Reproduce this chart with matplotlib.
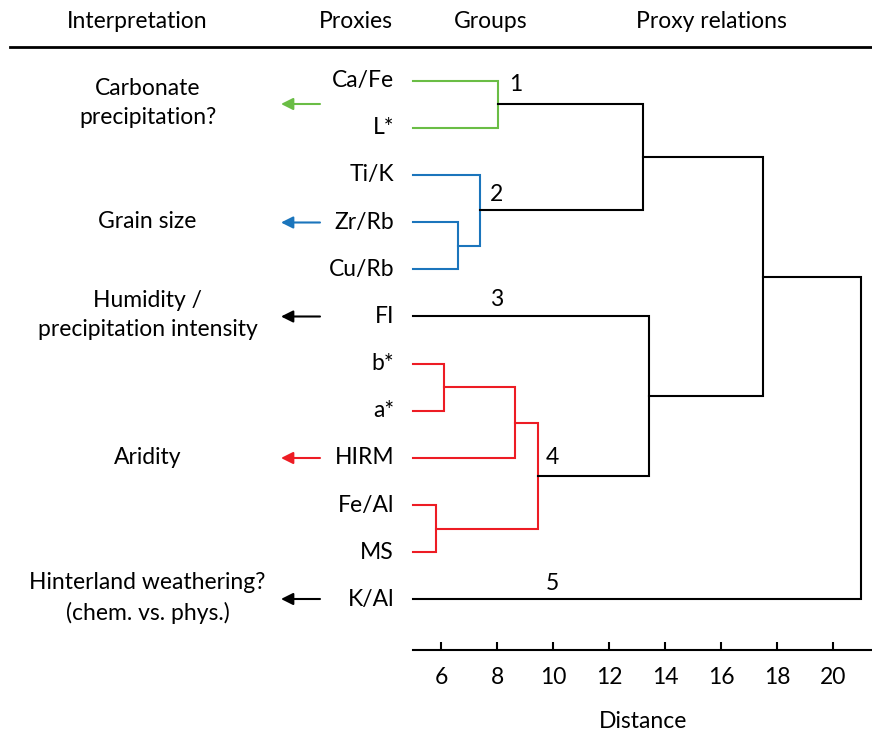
import numpy as np
import matplotlib
matplotlib.use("Agg")
import matplotlib.pyplot as plt

plt.rcParams['font.family'] = ['Lato', 'DejaVu Sans']
FS = 16.5

# Proxies (leaf order top to bottom)
proxies = ["Ca/Fe", "L*", "Ti/K", "Zr/Rb", "Cu/Rb", "FI", "b*", "a*",
           "HIRM", "Fe/Al", "MS", "K/Al"]

# Linkage: (node a, node b, distance, group colour)
green = "#6abd45"
blue = "#1b75bc"
red = "#ed1c24"
black = "#000000"
merge_a = [0, 3, 2, 12, 6, 16, 9, 17, 5, 15, 21]
merge_b = [1, 4, 13, 14, 7, 8, 10, 18, 19, 20, 11]
merge_dist = [8.04, 6.61, 7.39, 13.21, 6.09, 8.64, 5.81, 9.45, 13.42, 17.5, 21.02]
merge_col = [green, blue, blue, black, red, red, red, red, black, black, black]

# group numbers
group_ids = ["1", "2", "3", "4", "5"]
group_xy = [(8.65, 0.09), (7.98, 2.42), (7.98, 4.65), (9.98, 8.0), (9.98, 10.66)]

# interpretations (text, y in pixels, arrow colour)
interp = ["Carbonate\nprecipitation?", "Grain size", "Humidity /\nprecipitation intensity",
          "Aridity", "Hinterland weathering?\n(chem. vs. phys.)"]
interp_y = [103, 222, 315, 458, 598]
arrow_y = [104, 222.5, 316.5, 458, 599]
arrow_col = [green, blue, black, red, black]

headers = ["Interpretation", "Proxies", "Groups", "Proxy relations"]
header_x = [137, 356, 491, 711]

xticks = [6, 8, 10, 12, 14, 16, 18, 20]
x_min, x_max = 5.0, 21.4

W, H = 872, 734
fig = plt.figure(figsize=(W / 100, H / 100), dpi=100)

# dendrogram axes
ax_bot, ax_top = 650, 47
ax = fig.add_axes([413.3 / W, (H - ax_bot) / H, 1 - 413.3 / W, (ax_bot - ax_top) / H])
ax.set_xlim(x_min, x_max)
y0_px, dy_px = 80.7, 47.15
ax.set_ylim(11 + (ax_bot - 599.3) / dy_px, -(y0_px - ax_top) / dy_px)

n = len(proxies)
ypos = {i: float(i) for i in range(n)}
height = {i: x_min for i in range(n)}
for k in range(len(merge_a)):
    a, b, d, c = merge_a[k], merge_b[k], merge_dist[k], merge_col[k]
    ya, yb = ypos[a], ypos[b]
    ax.plot([height[a], d, d, height[b]], [ya, ya, yb, yb], color=c, lw=1.5,
            solid_joinstyle='miter', clip_on=False)
    node = n + k
    ypos[node] = (ya + yb) / 2
    height[node] = d

for g, (gx, gy) in zip(group_ids, group_xy):
    ax.text(gx, gy, g, fontsize=FS, ha='center', va='center')

for s in ['top', 'right', 'left']:
    ax.spines[s].set_visible(False)
ax.spines['bottom'].set_linewidth(1.5)
ax.set_yticks([])
ax.set_xticks(xticks)
ax.tick_params(axis='x', direction='in', length=6, width=1.5, labelsize=FS, pad=12)
ax.set_xlabel("Distance", fontsize=FS, labelpad=17)
ax.patch.set_alpha(0)

# overlay in pixel coordinates for text and arrows
ov = fig.add_axes([0, 0, 1, 1])
ov.set_xlim(0, W)
ov.set_ylim(H, 0)
ov.axis('off')
ov.patch.set_alpha(0)

for t, x in zip(headers, header_x):
    ov.text(x, 21, t, fontsize=FS, ha='center', va='center')
ov.plot([10, W], [46.5, 46.5], color='black', lw=2)

for i, p in enumerate(proxies):
    ov.text(394, y0_px + i * dy_px, p, fontsize=FS, ha='right', va='center')

for t, y in zip(interp, interp_y):
    ov.text(147.5, y, t, fontsize=FS, ha='center', va='center', linespacing=1.45)

for y, c in zip(arrow_y, arrow_col):
    ov.annotate("", xy=(281, y), xytext=(320, y),
                arrowprops=dict(arrowstyle='-|>', color=c, lw=1.5, mutation_scale=18,
                                shrinkA=0, shrinkB=0))

fig.savefig("out.png", dpi=100)
